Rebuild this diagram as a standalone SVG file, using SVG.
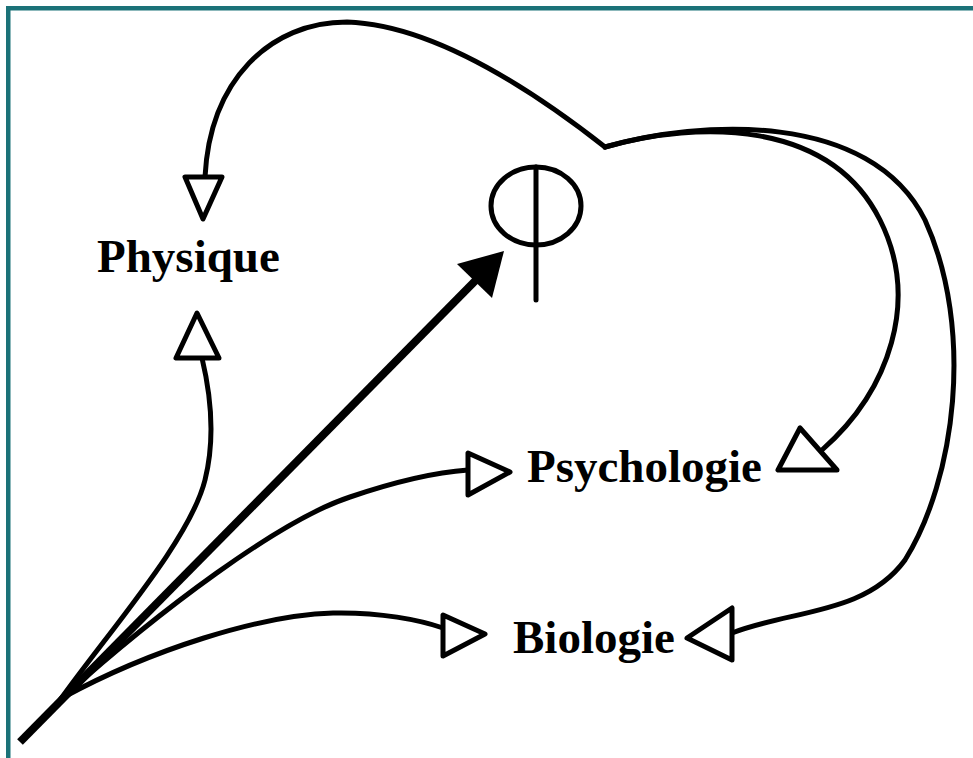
<svg xmlns="http://www.w3.org/2000/svg" width="973" height="758" viewBox="0 0 973 758">
<style>
.c{fill:none;stroke:#000;stroke-width:5;stroke-linecap:round}
.h{fill:#fff;stroke:#000;stroke-width:5;stroke-linejoin:round}
.t{font-family:"Liberation Serif","Times New Roman",serif;font-weight:bold;font-size:47px;fill:#000}
</style>
<rect width="973" height="758" fill="#fff"/>
<g id="border" fill="#1b7278">
<rect x="6" y="6" width="967" height="4.5"/>
<rect x="6" y="6" width="4.5" height="752"/>
</g>
<g id="connectors">
<path class="c" d="M605,147 C545,100 440,25 347,22 C270,22 210,80 205,177"/>
<path class="c" d="M605,147 C700,120 830,120 880,220 C920,300 890,390 822,450"/>
<path class="c" d="M605,147 C700,120 870,110 925,220 C975,330 955,480 905,560 C865,615 790,610 732,633"/>
<path class="c" d="M60,700 C110,630 190,540 205,480 C215,440 212,400 202,358"/>
<path class="c" d="M62,698 C160,610 280,520 350,497 C400,480 440,472 468,470"/>
<path class="c" d="M62,698 C150,650 260,615 333,613 C380,612 420,620 443,628"/>
<line x1="20" y1="742" x2="478" y2="278" stroke="#000" stroke-width="8"/>
<polygon points="504,251 457,264 492,298" fill="#000"/>
<polygon class="h" points="185,177 222,177 203,219"/>
<polygon class="h" points="197,313 176,358 219,358"/>
<polygon class="h" points="468,453 468,495 510,472"/>
<polygon class="h" points="778,470 837,470 800,428"/>
<polygon class="h" points="443,615 443,656 485,634"/>
<polygon class="h" points="687,638 732,608 732,660"/>
</g>
<g id="phi">
<ellipse cx="536" cy="206" rx="45" ry="39" fill="none" stroke="#000" stroke-width="5"/>
<line x1="536" y1="167" x2="536" y2="300" stroke="#000" stroke-width="5" stroke-linecap="round"/>
</g>
<g id="physique"><text class="t" x="97" y="272">Physique</text></g>
<g id="psychologie"><text class="t" x="527" y="482">Psychologie</text></g>
<g id="biologie"><text class="t" x="513" y="653">Biologie</text></g>
</svg>
